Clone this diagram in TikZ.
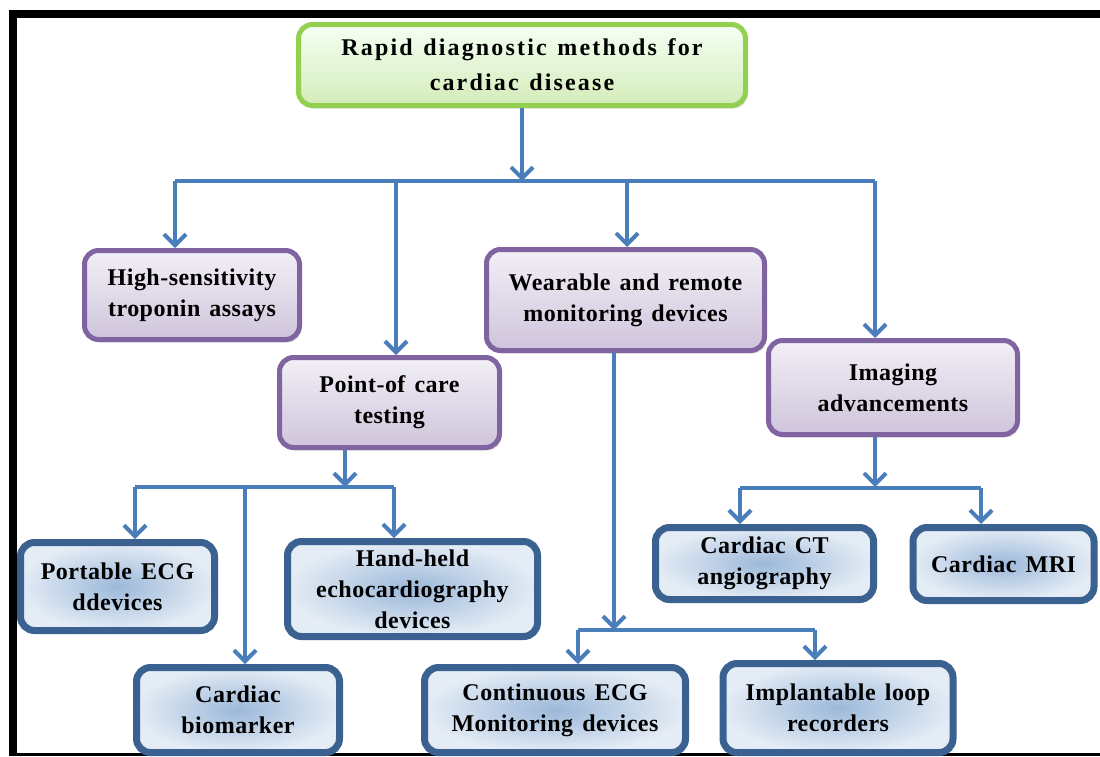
\documentclass[tikz,border=0pt]{standalone}
\usepackage{fontspec}
\setmainfont{Liberation Serif}
\newfontfamily\boxfont{Liberation Serif}[LetterSpace=2,WordSpace=1.4]
\newfontfamily\headfont{Liberation Serif}[LetterSpace=9,WordSpace=1.3]
\usetikzlibrary{arrows.meta,shadows}
\definecolor{linkblue}{HTML}{4A7EBB}
\definecolor{purpleline}{HTML}{8064A2}
\definecolor{blueline}{HTML}{3A6190}
\definecolor{greenline}{HTML}{92D050}
\begin{document}
\begin{tikzpicture}[x=1pt,y=-1pt,
  box/.style={rounded corners=14pt, align=center, inner sep=0pt,
    font=\boxfont\bfseries\fontsize{24}{31}\selectfont,
    drop shadow={shadow xshift=2pt,shadow yshift=-3pt,opacity=0.25}},
  headbox/.style={box, draw=greenline, line width=5pt,
    top color=green!4!white, bottom color=greenline!40!white,
    font=\headfont\bfseries\fontsize{24}{35}\selectfont},
  groupbox/.style={box, draw=purpleline, line width=5pt,
    top color=purpleline!10!white, bottom color=purpleline!38!white},
  itembox/.style={box, draw=blueline, line width=7pt,
    inner color=linkblue!55!white, outer color=linkblue!15!white},
  link/.style={draw=linkblue, line width=4pt},
  arrow/.style={link, -{Straight Barb[length=11pt,width=22pt]}}]
\useasboundingbox (0,0) rectangle (1100,756);
\clip (0,0) rectangle (1100,756);
\fill[white] (0,0) rectangle (1100,756);
% frame
\draw[line width=8pt] (1100,13.5) -- (12.5,13.5) -- (12.5,756);
\draw[line width=3pt] (12.5,754.5) -- (1100,754.5);

\node[headbox, minimum width=447, minimum height=81] (title) at (522,65) {Rapid diagnostic methods for\\cardiac disease};

\node[groupbox, minimum width=215, minimum height=89] (hs) at (192,295) {High-sensitivity\\troponin assays};
\node[groupbox, minimum width=220, minimum height=90] (poc) at (389.5,402.5) {Point-of care\\testing};
\node[groupbox, minimum width=278, minimum height=101] (wear) at (625.5,300) {Wearable and remote\\monitoring devices};
\node[groupbox, minimum width=249, minimum height=94] (img) at (893,387.5) {Imaging\\advancements};

\node[itembox, minimum width=194, minimum height=88] (pecg) at (117.5,586.5) {Portable ECG\\ddevices};
\node[itembox, minimum width=250, minimum height=95] (hand) at (412.5,589) {Hand-held\\echocardiography\\devices};
\node[itembox, minimum width=203, minimum height=85] (bio) at (238,710) {Cardiac\\biomarker};
\node[itembox, minimum width=218, minimum height=72] (cct) at (764.5,563.5) {Cardiac CT\\angiography};
\node[itembox, minimum width=181, minimum height=73] (mri) at (1003.5,564) {Cardiac MRI};
\node[itembox, minimum width=261, minimum height=85] (cont) at (555,710) {Continuous ECG\\Monitoring devices};
\node[itembox, minimum width=230, minimum height=89] (impl) at (838,708) {Implantable loop\\recorders};

% first level
\coordinate (b1) at (522,181);
\coordinate (b1l) at (175,181);
\coordinate (b1a) at (396,181);
\coordinate (b1b) at (627,181);
\coordinate (b1r) at (875,181);
\path[arrow] (title) -- (b1);
\path[link] (b1l) -- (b1r);
\path[arrow] (b1l) -- (b1l |- hs.north);
\path[arrow] (b1a) -- (b1a |- poc.north);
\path[arrow] (b1b) -- (b1b |- wear.north);
\path[arrow] (b1r) -- (b1r |- img.north);

% point-of-care
\coordinate (b2) at (345,487);
\coordinate (b2l) at (135,487);
\coordinate (b2m) at (245,487);
\coordinate (b2r) at (394,487);
\path[arrow] (poc.south -| b2) -- (b2);
\path[link] (b2l) -- (b2r);
\path[arrow] (b2l) -- (b2l |- pecg.north);
\path[arrow] (b2m) -- (b2m |- bio.north);
\path[arrow] (b2r) -- (b2r |- hand.north);

% wearable
\coordinate (b3) at (614,630);
\coordinate (b3l) at (578,630);
\coordinate (b3r) at (815,630);
\path[arrow] (wear.south -| b3) -- (b3);
\path[link] (b3l) -- (b3r);
\path[arrow] (b3l) -- (b3l |- cont.north);
\path[arrow] (b3r) -- (b3r |- impl.north);

% imaging
\coordinate (b4) at (875,487);
\coordinate (b4l) at (740,488);
\coordinate (b4r) at (981,488);
\path[arrow] (img.south -| b4) -- (b4);
\path[link] (b4l) -- (b4r);
\path[arrow] (b4l) -- (b4l |- cct.north);
\path[arrow] (b4r) -- (b4r |- mri.north);
\end{tikzpicture}
\end{document}
